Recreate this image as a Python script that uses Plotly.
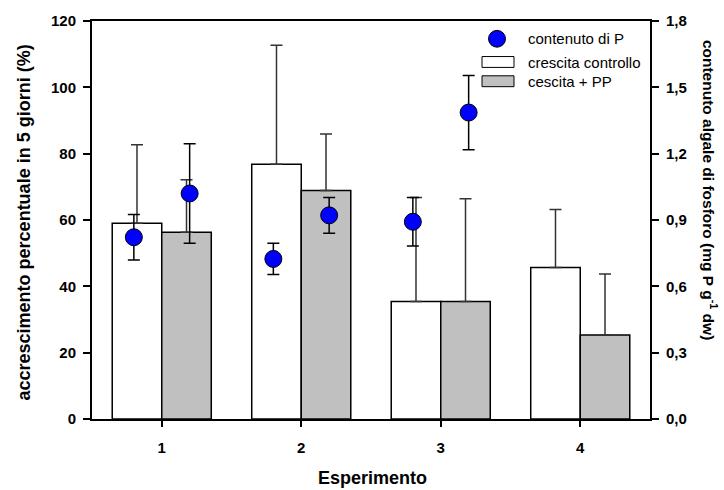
import plotly.graph_objects as go

# Experiments on the x axis
esperimenti = [1, 2, 3, 4]

# Percentage growth over 5 days (left axis), mean and upper error
crescita_controllo = [59.0, 76.8, 35.4, 45.7]
crescita_controllo_err = [23.7, 35.9, 31.4, 17.5]
crescita_pp = [56.3, 68.9, 35.4, 25.3]
crescita_pp_err = [15.8, 17.0, 31.0, 18.4]

# Algal phosphorus content (right axis), experiments 1-3
esperimenti_p = [1, 2, 3]
p_controllo = [0.822, 0.724, 0.892]
p_controllo_err = [0.103, 0.071, 0.110]
p_pp = [1.020, 0.921, 1.386]
p_pp_err = [0.225, 0.081, 0.168]

left_ticks = [0, 20, 40, 60, 80, 100, 120]
right_ticks = [0.0, 0.3, 0.6, 0.9, 1.2, 1.5, 1.8]

FONT = "Liberation Sans, Arial, sans-serif"
W, H = 724, 490
ML, MR, MT, MB = 92, 74, 16, 71
PW, PH = W - ML - MR, H - MT - MB


def px_x(px):
    return (px - ML) / PW


def px_y(py):
    return (H - MB - py) / PH


fig = go.Figure()

fig.add_trace(go.Bar(
    x=esperimenti, y=crescita_controllo, name="crescita controllo",
    marker=dict(color="white", line=dict(color="black", width=1.5)),
    error_y=dict(type="data", symmetric=False, array=crescita_controllo_err,
                 arrayminus=[0] * len(crescita_controllo_err),
                 color="#333333", thickness=1.5, width=6),
    showlegend=False,
))
fig.add_trace(go.Bar(
    x=esperimenti, y=crescita_pp, name="cescita + PP",
    marker=dict(color="#C0C0C0", line=dict(color="black", width=1.5)),
    error_y=dict(type="data", symmetric=False, array=crescita_pp_err,
                 arrayminus=[0] * len(crescita_pp_err),
                 color="#333333", thickness=1.5, width=6),
    showlegend=False,
))

# Phosphorus points sit slightly outside the bar centres
offset = 0.2
marker_style = dict(color="#0000FF", size=17, line=dict(color="black", width=1))
err_style = dict(color="black", thickness=1.5, width=6)
fig.add_trace(go.Scatter(
    x=[e - offset for e in esperimenti_p], y=p_controllo, yaxis="y2",
    mode="markers", marker=marker_style, name="contenuto di P",
    error_y=dict(type="data", array=p_controllo_err, **err_style),
    showlegend=False,
))
fig.add_trace(go.Scatter(
    x=[e + offset for e in esperimenti_p], y=p_pp, yaxis="y2",
    mode="markers", marker=marker_style, name="contenuto di P",
    error_y=dict(type="data", array=p_pp_err, **err_style),
    showlegend=False,
))

tick_font = dict(family=FONT, size=15, color="black", weight="bold")

fig.update_layout(
    width=W, height=H,
    margin=dict(l=ML, r=MR, t=MT, b=MB),
    paper_bgcolor="white", plot_bgcolor="white",
    separators=",.",
    barmode="group", bargap=0.29, bargroupgap=0,
    font=dict(family=FONT, color="black"),
    xaxis=dict(
        range=[0.5, 4.5], tickvals=esperimenti, showgrid=False, zeroline=False,
        showline=True, linecolor="black", linewidth=2, mirror=True,
        ticks="outside", ticklen=6, tickwidth=1.5, tickcolor="black",
        tickfont=tick_font, ticklabelstandoff=8,
    ),
    yaxis=dict(
        range=[0, 120], tickvals=left_ticks, showgrid=False, zeroline=False,
        showline=True, linecolor="black", linewidth=2,
        ticks="outside", ticklen=7, tickwidth=1.5, tickcolor="black",
        tickfont=tick_font, ticklabelstandoff=4,
    ),
    yaxis2=dict(
        range=[0, 1.8], tickvals=right_ticks, tickformat=".1f",
        overlaying="y", side="right", showgrid=False, zeroline=False,
        showline=True, linecolor="black", linewidth=2,
        ticks="outside", ticklen=7, tickwidth=1.5, tickcolor="black",
        tickfont=tick_font, ticklabelstandoff=4,
    ),
)

# Axis titles
fig.add_annotation(
    text="<b>accrescimento percentuale in 5 giorni (%)</b>",
    xref="paper", yref="paper", x=px_x(24), y=px_y(220),
    xanchor="center", yanchor="middle", textangle=-90, showarrow=False,
    font=dict(family=FONT, size=18, color="black"),
)
fig.add_annotation(
    text="<b>contenuto algale di fosforo (mg P g<sup>-1</sup> dw)</b>",
    xref="paper", yref="paper", x=px_x(710), y=px_y(187),
    xanchor="center", yanchor="middle", textangle=90, showarrow=False,
    font=dict(family=FONT, size=15.5, color="black"),
)
fig.add_annotation(
    text="<b>Esperimento</b>",
    xref="paper", yref="paper", x=px_x(372), y=px_y(479),
    xanchor="center", yanchor="middle", showarrow=False,
    font=dict(family=FONT, size=18, color="black"),
)

# Legend drawn as shapes and labels in the upper right corner
legend_font = dict(family=FONT, size=15, color="black")
fig.add_shape(type="circle", xref="paper", yref="paper",
              x0=px_x(488.5), x1=px_x(505.5), y0=px_y(42.5), y1=px_y(25.5),
              fillcolor="#0000FF", line=dict(color="black", width=1))
fig.add_shape(type="rect", xref="paper", yref="paper",
              x0=px_x(482), x1=px_x(514), y0=px_y(63), y1=px_y(52),
              fillcolor="white", line=dict(color="black", width=1))
fig.add_shape(type="rect", xref="paper", yref="paper",
              x0=px_x(482), x1=px_x(514), y0=px_y(82.5), y1=px_y(71.5),
              fillcolor="#C0C0C0", line=dict(color="black", width=1))
for label, ly in [("contenuto di P", 34), ("crescita controllo", 58),
                  ("cescita + PP", 77)]:
    fig.add_annotation(text=label, xref="paper", yref="paper",
                       x=px_x(526), y=px_y(ly), xanchor="left",
                       yanchor="middle", showarrow=False, font=legend_font)

fig.write_html("out.html")
